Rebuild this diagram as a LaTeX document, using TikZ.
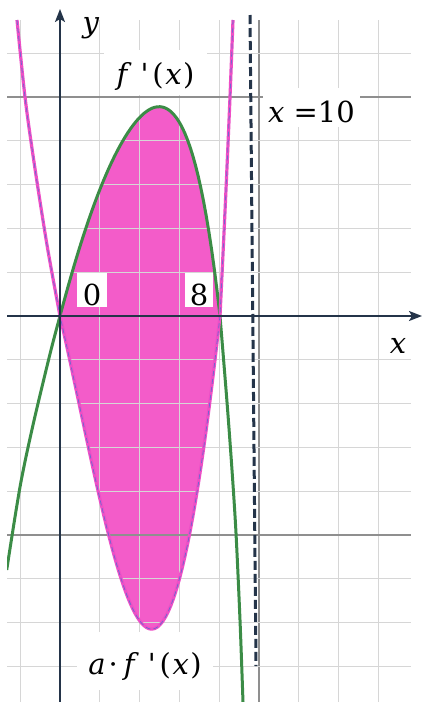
\documentclass[tikz,border=0pt]{standalone}
\usepackage{fontspec}
\setmainfont{DejaVu Serif}
\usetikzlibrary{arrows.meta}
\definecolor{pinkfill}{HTML}{F35CC9}
\definecolor{pinkline}{HTML}{EE4FC6}
\definecolor{dashblue}{HTML}{7565CF}
\definecolor{curvegreen}{HTML}{3B8C46}
\definecolor{navy}{HTML}{243449}
\definecolor{gridlight}{HTML}{D6D6D6}
\definecolor{gridmajor}{HTML}{8F8F8F}
\tikzset{
  gridminor/.style={gridlight, line width=1.2pt},
  gridbold/.style={gridmajor, line width=1.2pt},
  axisline/.style={navy, line width=2pt, -{Stealth[length=13pt,width=10pt,inset=3pt]}},
  greencurve/.style={curvegreen, line width=3pt, line join=round},
  pinkcurve/.style={pinkline, line width=3.2pt, line join=round},
  pinkdash/.style={dashblue, line width=0.8pt, dash pattern=on 5pt off 3pt},
  asymptote/.style={navy, line width=3pt, dash pattern=on 9pt off 4pt},
  lbl/.style={font=\fontsize{29}{34}\selectfont, inner sep=0pt},
  lblbox/.style={lbl, fill=white}
}
\def\greenfn#1{600*(#1)*(1-(#1))*(1+1.4*(#1))*(1-0.88*(#1)*(1-(#1)))}
\def\pinkfn#1{700*(#1)*(1-(#1))*(1+1.07*(#1))*(1+0.545*(#1)*(1-(#1)))}
\begin{document}
\begin{tikzpicture}[x=1pt,y=-1pt]
\useasboundingbox (0,0) rectangle (422,702);
\fill[white] (0,0) rectangle (422,702);

% shaded region between the curves
\fill[pinkfill] plot[domain=0:1, samples=60] ({60+160*\x},{316-\greenfn{\x}})
  -- plot[domain=1:0, samples=60] ({60+160*\x},{316+\pinkfn{\x}}) -- cycle;

% grid
\foreach \k in {-1,1,2,3,4,6,7,8} {
  \draw[gridminor] ({60+39.8*\k},20) -- ({60+39.8*\k},702);
}
\draw[gridbold] (259,20) -- (259,702);
\foreach \k in {-6,-4,-3,-2,-1,1,2,3,4,6,7,8} {
  \draw[gridminor] (7,{316+43.8*\k}) -- (411,{316+43.8*\k});
}
\draw[gridbold] (7,97) -- (411,97);
\draw[gridbold] (7,535) -- (411,535);

% label boxes
\node[lblbox, minimum width=103pt, text height=34pt, text depth=11pt] (fp) at (155.5,72.5)
  {\textit{f}\hspace{9pt}\textquotesingle\hspace{4pt}(\hspace{1.5pt}\textit{x}\hspace{1.5pt})};
\node[lblbox, minimum width=97pt, text height=34pt, text depth=5pt] (xten) at (311.5,107.5)
  {\textit{x}\hspace{9pt}=10};
\node[lblbox, minimum width=136pt, text height=42pt, text depth=16pt] (afp) at (145,661)
  {\textit{a}\hspace{3pt}·\hspace{6pt}\textit{f}\hspace{9pt}\textquotesingle\hspace{4pt}(\hspace{1.5pt}\textit{x}\hspace{1.5pt})};
\node[lblbox, minimum width=30pt, text height=32pt, text depth=2pt] (zero) at (92,290) {0};
\node[lblbox, minimum width=28pt, text height=32pt, text depth=2pt] (eight) at (199,290) {8\hspace{7pt}};

% curves
\begin{scope}
\clip (7,18) rectangle (411,702);
\draw[greencurve] plot[smooth] coordinates {(6.7,570) (20,487) (33,425) (50,354) (60,316)}
  -- plot[domain=0:1, samples=60] ({60+160*\x},{316-\greenfn{\x}})
  -- plot[smooth] coordinates {(220,316) (227,402) (232,470) (236,533) (240,620) (243,702)};
\draw[pinkcurve] plot[smooth] coordinates {(17,20) (25,97) (34,162) (47,245) (60,316)}
  -- plot[domain=0:1, samples=60] ({60+160*\x},{316+\pinkfn{\x}})
  -- plot[smooth] coordinates {(220,316) (224,233) (227,167) (230,97) (233,20)};
\draw[pinkdash] plot[smooth] coordinates {(17,20) (25,97) (34,162) (47,245) (60,316)}
  -- plot[domain=0:1, samples=60] ({60+160*\x},{316+\pinkfn{\x}})
  -- plot[smooth] coordinates {(220,316) (224,233) (227,167) (230,97) (233,20)};
\end{scope}

% axes
\coordinate (xs) at (7,316);
\coordinate (xe) at (422,316);
\coordinate (ys) at (60,702);
\coordinate (ye) at (60,9);
\draw[axisline] (xs) -- (xe);
\draw[axisline] (ys) -- (ye);

% asymptote x = 10
\coordinate (dtop) at (250,15);
\coordinate (dbot) at (256,666);
\draw[asymptote] (dtop) -- (dbot);

% axis labels
\node[lbl, anchor=base] (ylab) at (91,32) {\textit{y}};
\node[lbl, anchor=base] (xlab) at (398,353) {\textit{x}};
\end{tikzpicture}
\end{document}
